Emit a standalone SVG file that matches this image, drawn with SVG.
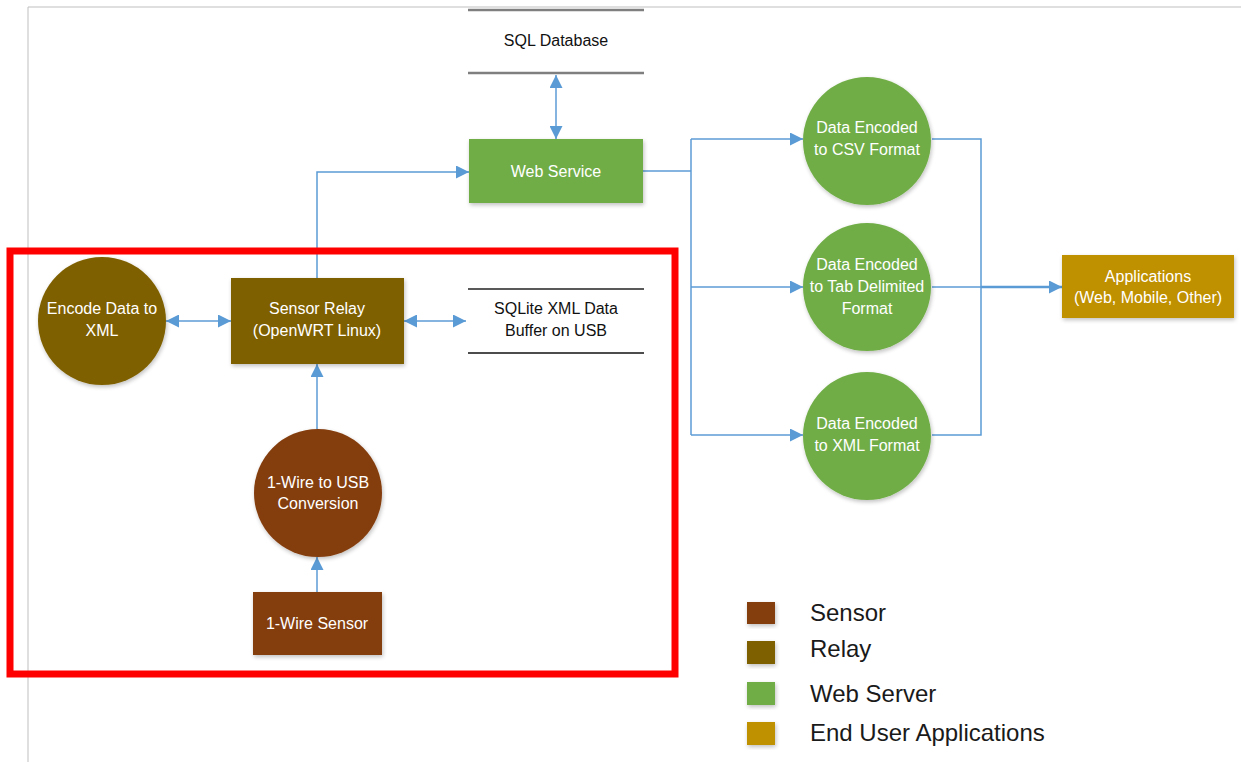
<svg xmlns="http://www.w3.org/2000/svg" width="1241" height="762" viewBox="0 0 1241 762">
<style>
.t{font-family:"Liberation Sans",Arial,sans-serif;font-size:16px;text-anchor:middle}
.w{fill:#ffffff}
.k{fill:#111111}
.lg{font-family:"Liberation Sans",Arial,sans-serif;font-size:24px;fill:#1a1a1a}
.c{fill:none;stroke:#5B9BD5;stroke-width:1.5}
.sensor{fill:#843C0C}
.relay{fill:#7F6000}
.web{fill:#70AD47}
.app{fill:#BF9000}
</style>
<defs>
<marker id="arrb" viewBox="0 0 10 10" refX="10" refY="5" markerWidth="13" markerHeight="13" markerUnits="userSpaceOnUse" orient="auto-start-reverse">
<path d="M0,0 L10,5 L0,10 z" fill="#5B9BD5"/>
</marker>
<filter id="sh" x="-20%" y="-20%" width="140%" height="140%">
<feGaussianBlur in="SourceAlpha" stdDeviation="2"/>
<feOffset dx="1" dy="2"/>
<feComponentTransfer><feFuncA type="linear" slope="0.25"/></feComponentTransfer>
<feMerge><feMergeNode/><feMergeNode in="SourceGraphic"/></feMerge>
</filter>
</defs>
<rect width="1241" height="762" fill="#ffffff"/>
<path d="M28,762 L28,7 L1241,7" fill="none" stroke="#bfbfbf" stroke-width="1"/>

<g id="connectors">
<path class="c" d="M556,75 L556,139" marker-start="url(#arrb)" marker-end="url(#arrb)"/>
<path class="c" d="M317,278 L317,172 L469,172" marker-end="url(#arrb)"/>
<path class="c" d="M643,171 L691,171"/>
<path class="c" d="M691,139 L691,435"/>
<path class="c" d="M691,139 L803,139" marker-end="url(#arrb)"/>
<path class="c" d="M691,287 L803,287" marker-end="url(#arrb)"/>
<path class="c" d="M691,435 L803,435" marker-end="url(#arrb)"/>
<path class="c" d="M932,139 L981,139 L981,435 L932,435"/>
<path class="c" d="M932,287 L981,287"/>
<path class="c" style="stroke-width:2.5" d="M981,287 L1062,287" marker-end="url(#arrb)"/>
<path class="c" d="M166,321 L231,321" marker-start="url(#arrb)" marker-end="url(#arrb)"/>
<path class="c" d="M404,321 L466,321" marker-start="url(#arrb)" marker-end="url(#arrb)"/>
<path class="c" d="M317,429 L317,364" marker-end="url(#arrb)"/>
<path class="c" d="M317,592 L317,557" marker-end="url(#arrb)"/>
</g>

<g id="sql-database">
<line x1="468" y1="10" x2="644" y2="10" stroke="#7f7f7f" stroke-width="2.5"/>
<line x1="468" y1="73" x2="644" y2="73" stroke="#7f7f7f" stroke-width="2.5"/>
<text class="t k" x="556" y="46" font-size="14.5">SQL Database</text>
</g>

<g id="web-service">
<rect class="web" x="469" y="139" width="174" height="64" filter="url(#sh)"/>
<text class="t w" x="556" y="177">Web Service</text>
</g>

<g id="csv">
<circle class="web" cx="867" cy="141" r="64" filter="url(#sh)"/>
<text class="t w" x="867" y="133">Data Encoded</text>
<text class="t w" x="867" y="155">to CSV Format</text>
</g>

<g id="tab">
<circle class="web" cx="867" cy="287" r="64" filter="url(#sh)"/>
<text class="t w" x="867" y="270">Data Encoded</text>
<text class="t w" x="867" y="292">to Tab Delimited</text>
<text class="t w" x="867" y="314">Format</text>
</g>

<g id="xml">
<circle class="web" cx="867" cy="436" r="64" filter="url(#sh)"/>
<text class="t w" x="867" y="429">Data Encoded</text>
<text class="t w" x="867" y="451">to XML Format</text>
</g>

<g id="applications">
<rect class="app" x="1062" y="255" width="172" height="63" filter="url(#sh)"/>
<text class="t w" x="1148" y="282">Applications</text>
<text class="t w" x="1148" y="303">(Web, Mobile, Other)</text>
</g>

<g id="encode-xml">
<circle class="relay" cx="102" cy="321" r="64" filter="url(#sh)"/>
<text class="t w" x="102" y="314">Encode Data to</text>
<text class="t w" x="102" y="336">XML</text>
</g>

<g id="sensor-relay">
<rect class="relay" x="231" y="278" width="173" height="86" filter="url(#sh)"/>
<text class="t w" x="317" y="314">Sensor Relay</text>
<text class="t w" x="317" y="336">(OpenWRT Linux)</text>
</g>

<g id="sqlite-buffer">
<line x1="468" y1="289" x2="644" y2="289" stroke="#595959" stroke-width="2"/>
<line x1="468" y1="353" x2="644" y2="353" stroke="#111111" stroke-width="1.5"/>
<text class="t k" x="556" y="314">SQLite XML Data</text>
<text class="t k" x="556" y="336">Buffer on USB</text>
</g>

<g id="usb-conversion">
<circle class="sensor" cx="318" cy="493" r="64" filter="url(#sh)"/>
<text class="t w" x="318" y="488">1-Wire to USB</text>
<text class="t w" x="318" y="509">Conversion</text>
</g>

<g id="wire-sensor">
<rect class="sensor" x="253" y="592" width="129" height="63" filter="url(#sh)"/>
<text class="t w" x="317" y="629">1-Wire Sensor</text>
</g>

<g id="highlight">
<rect x="10" y="251" width="665" height="423" fill="none" stroke="#ff0000" stroke-width="7"/>
</g>

<g id="legend">
<rect class="sensor" x="747" y="602" width="28" height="22" filter="url(#sh)"/>
<rect class="relay" x="747" y="641" width="28" height="23" filter="url(#sh)"/>
<rect class="web" x="747" y="682" width="28" height="23" filter="url(#sh)"/>
<rect class="app" x="747" y="722" width="28" height="23" filter="url(#sh)"/>
<text class="lg" x="810" y="621">Sensor</text>
<text class="lg" x="810" y="657">Relay</text>
<text class="lg" x="810" y="702">Web Server</text>
<text class="lg" x="810" y="741">End User Applications</text>
</g>
</svg>
